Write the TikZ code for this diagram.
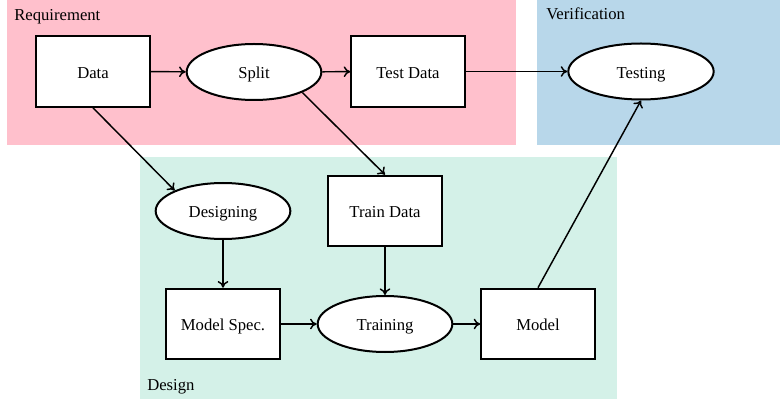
\documentclass[tikz,border=0pt]{standalone}
\usepackage{fontspec}
\setmainfont{Liberation Serif}
\usepackage{tikz}
\usetikzlibrary{arrows,arrows.meta,shapes.geometric}

\definecolor{reqpink}{RGB}{255,192,204}
\definecolor{verblue}{RGB}{184,215,234}
\definecolor{desgreen}{RGB}{212,241,232}

\begin{document}
\begin{tikzpicture}[x=0.75pt,y=-0.75pt,
	box/.style={draw,fill=white,line width=1.5pt,minimum width=85pt,minimum height=53pt,text height=10pt,text depth=0pt,font=\fontsize{12.5}{15}\selectfont},
	oval/.style={draw,fill=white,ellipse,line width=1.5pt,minimum width=101pt,minimum height=42pt,text height=10pt,text depth=0pt,font=\fontsize{12.5}{15}\selectfont},
	conn/.style={-{To[length=5pt,width=8pt]},line width=1.1pt},
	area/.style={anchor=base west,inner sep=0pt,font=\fontsize{12.5}{15}\selectfont}]

	\useasboundingbox (0,0) rectangle (780,402);

	% stages
	\fill[reqpink] (7,0) rectangle (516,145);
	\fill[verblue] (537,0) rectangle (780,145);
	\fill[desgreen] (140,157) rectangle (617,399);

	\node[area] (reqlabel) at (14,21) {Requirement};
	\node[area] (verlabel) at (546,20) {Verification};
	\node[area] (deslabel) at (147,390) {Design};

	% requirement
	\node[box] (data) at (93,71.5) {Data};
	\node[oval] (split) at (254,72) {Split};
	\node[box] (testdata) at (408,71.5) {Test Data};

	% verification
	\node[oval,minimum width=109pt] (testing) at (641,71.5) {Testing};

	% design
	\node[oval] (designing) at (223,211) {Designing};
	\node[box] (traindata) at (385,211) {Train Data};
	\node[box] (modelspec) at (223,324) {Model Spec.};
	\node[oval] (training) at (385,324) {Training};
	\node[box] (model) at (538,324) {Model};

	\draw[conn] (data) -- (split);
	\draw[conn] (split) -- (testdata);
	\draw[conn] (testdata) -- (testing);
	\draw[conn] (data.south) -- (designing.north west);
	\draw[conn] (split.south east) -- (traindata.north);
	\draw[conn] (designing) -- (modelspec);
	\draw[conn] (traindata) -- (training);
	\draw[conn] (modelspec) -- (training);
	\draw[conn] (training) -- (model);
	\draw[conn] (model.north) -- (testing.south);

\end{tikzpicture}
\end{document}
